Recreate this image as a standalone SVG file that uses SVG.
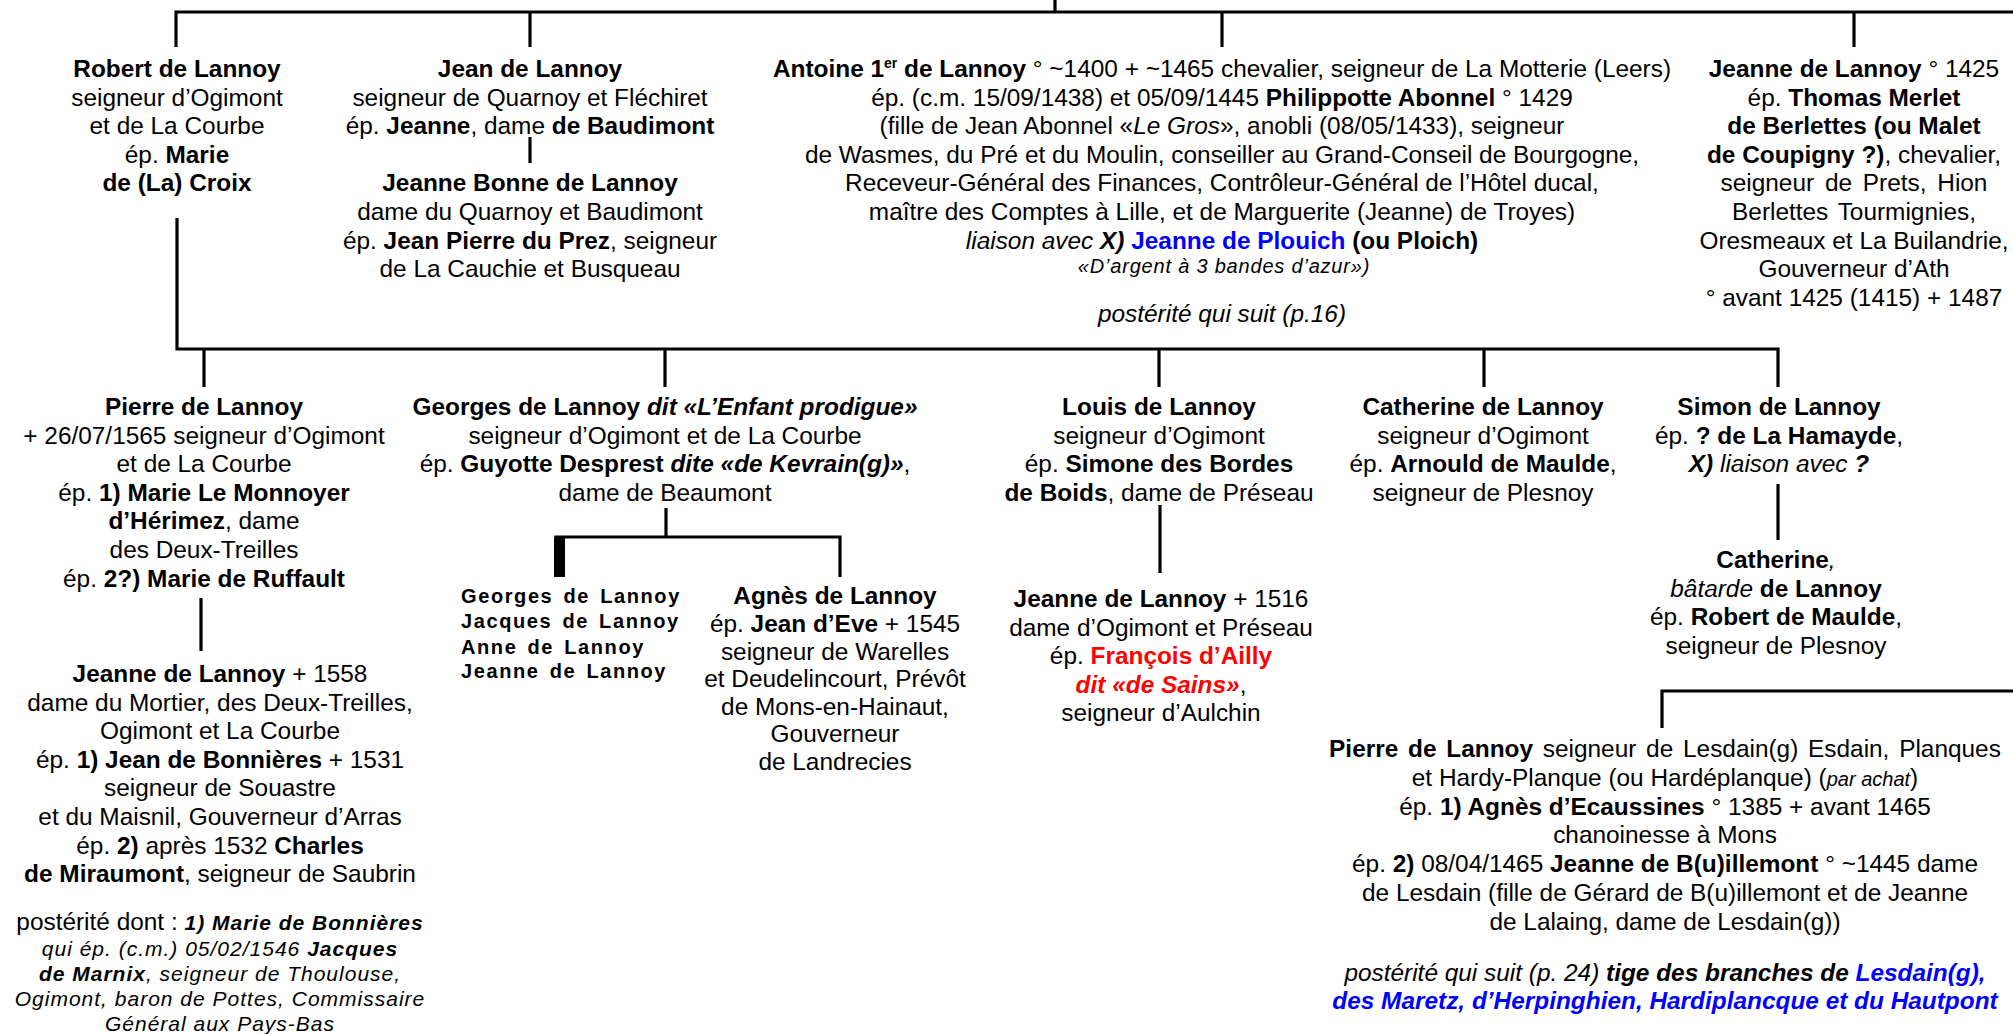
<svg xmlns="http://www.w3.org/2000/svg" width="2013" height="1034" viewBox="0 0 2013 1034">
<style>
text{font-family:"Liberation Sans",Arial,sans-serif;font-size:24.4px;fill:#000;text-anchor:middle}
.b{font-weight:bold}
.i{font-style:italic}
.bi{font-weight:bold;font-style:italic}
.blue{fill:#0000ff}
.red{fill:#ff0000}
.sm{font-size:20px;letter-spacing:0.8px}
.kids{font-size:20px;font-weight:bold;letter-spacing:1.6px;word-spacing:3px;text-anchor:start}
.post{font-size:21px;letter-spacing:1px}
.ln{stroke:#000;stroke-width:3.2;fill:none}
</style>
<rect width="2013" height="1034" fill="#fff"/>
<g id="connectors">
<path class="ln" d="M1055 0 V12"/>
<path class="ln" d="M176 47 V12 H2013"/>
<path class="ln" d="M530 12 V47"/>
<path class="ln" d="M1222 12 V47"/>
<path class="ln" d="M1854 12 V47"/>
<path class="ln" d="M530 137 V163"/>
<path class="ln" d="M177 218 V349 H1778 V387"/>
<path class="ln" d="M204 349 V387"/>
<path class="ln" d="M665 349 V387"/>
<path class="ln" d="M1159 349 V387"/>
<path class="ln" d="M1484 349 V387"/>
<path class="ln" d="M201 598 V651"/>
<path class="ln" d="M666 508 V537"/>
<path class="ln" d="M556 577 V537 H840 V577"/>
<rect x="554" y="537" width="11" height="40" fill="#000"/>
<path class="ln" d="M1160 505 V573"/>
<path class="ln" d="M1778 484 V540"/>
<path class="ln" d="M1662 728 V691 H2013"/>
</g>
<g id="robert">
<text x="177" y="77" class="b">Robert de Lannoy</text>
<text x="177" y="105.6">seigneur d’Ogimont</text>
<text x="177" y="134.2">et de La Courbe</text>
<text x="177" y="162.8">ép. <tspan class="b">Marie</tspan></text>
<text x="177" y="191.4" class="b">de (La) Croix</text>
</g>
<g id="jean">
<text x="530" y="77" class="b">Jean de Lannoy</text>
<text x="530" y="105.6">seigneur de Quarnoy et Fléchiret</text>
<text x="530" y="134.2">ép. <tspan class="b">Jeanne</tspan>, dame <tspan class="b">de Baudimont</tspan></text>
</g>
<g id="jeanne-bonne">
<text x="530" y="191.4" class="b">Jeanne Bonne de Lannoy</text>
<text x="530" y="220">dame du Quarnoy et Baudimont</text>
<text x="530" y="248.6">ép. <tspan class="b">Jean Pierre du Prez</tspan>, seigneur</text>
<text x="530" y="277.2">de La Cauchie et Busqueau</text>
</g>
<g id="antoine">
<text x="1222" y="77"><tspan class="b">Antoine 1</tspan><tspan class="b" font-size="14" dy="-9">er</tspan><tspan class="b" dy="9"> de Lannoy</tspan> ° ~1400 + ~1465 chevalier, seigneur de La Motterie (Leers)</text>
<text x="1222" y="105.6">ép. (c.m. 15/09/1438) et 05/09/1445 <tspan class="b">Philippotte Abonnel</tspan> ° 1429</text>
<text x="1222" y="134.2">(fille de Jean Abonnel «<tspan class="i">Le Gros</tspan>», anobli (08/05/1433), seigneur</text>
<text x="1222" y="162.8">de Wasmes, du Pré et du Moulin, conseiller au Grand-Conseil de Bourgogne,</text>
<text x="1222" y="191.4">Receveur-Général des Finances, Contrôleur-Général de l’Hôtel ducal,</text>
<text x="1222" y="220">maître des Comptes à Lille, et de Marguerite (Jeanne) de Troyes)</text>
<text x="1222" y="248.6"><tspan class="i">liaison avec </tspan><tspan class="bi">X)</tspan> <tspan class="b blue">Jeanne de Plouich</tspan><tspan class="b"> (ou Ploich)</tspan></text>
<text x="1224" y="273" class="i sm">«D’argent à 3 bandes d’azur»)</text>
<text x="1222" y="322" class="i">postérité qui suit (p.16)</text>
</g>
<g id="jeanne-1425">
<text x="1854" y="77"><tspan class="b">Jeanne de Lannoy</tspan> ° 1425</text>
<text x="1854" y="105.6">ép. <tspan class="b">Thomas Merlet</tspan></text>
<text x="1854" y="134.2" class="b">de Berlettes (ou Malet</text>
<text x="1854" y="162.8"><tspan class="b">de Coupigny ?)</tspan>, chevalier,</text>
<text x="1854" y="191.4" word-spacing="4">seigneur de Prets, Hion</text>
<text x="1854" y="220" word-spacing="3">Berlettes Tourmignies,</text>
<text x="1854" y="248.6">Oresmeaux et La Builandrie,</text>
<text x="1854" y="277.2">Gouverneur d’Ath</text>
<text x="1854" y="305.8">° avant 1425 (1415) + 1487</text>
</g>
<g id="pierre-1565">
<text x="204" y="415" class="b">Pierre de Lannoy</text>
<text x="204" y="443.6">+ 26/07/1565 seigneur d’Ogimont</text>
<text x="204" y="472.2">et de La Courbe</text>
<text x="204" y="500.8">ép. <tspan class="b">1) Marie Le Monnoyer</tspan></text>
<text x="204" y="529.4"><tspan class="b">d’Hérimez</tspan>, dame</text>
<text x="204" y="558">des Deux-Treilles</text>
<text x="204" y="586.6">ép. <tspan class="b">2?) Marie de Ruffault</tspan></text>
</g>
<g id="jeanne-1558">
<text x="220" y="682"><tspan class="b">Jeanne de Lannoy</tspan> + 1558</text>
<text x="220" y="710.6">dame du Mortier, des Deux-Treilles,</text>
<text x="220" y="739.2">Ogimont et La Courbe</text>
<text x="220" y="767.8">ép. <tspan class="b">1) Jean de Bonnières</tspan> + 1531</text>
<text x="220" y="796.4">seigneur de Souastre</text>
<text x="220" y="825">et du Maisnil, Gouverneur d’Arras</text>
<text x="220" y="853.6">ép. <tspan class="b">2)</tspan> après 1532 <tspan class="b">Charles</tspan></text>
<text x="220" y="882.2"><tspan class="b">de Miraumont</tspan>, seigneur de Saubrin</text>
<text x="220" y="930">postérité dont : <tspan class="bi post">1) Marie de Bonnières</tspan></text>
<text x="220" y="956" class="i post">qui ép. (c.m.) 05/02/1546 <tspan class="b">Jacques</tspan></text>
<text x="220" y="981" class="i post"><tspan class="b">de Marnix</tspan>, seigneur de Thoulouse,</text>
<text x="220" y="1006" class="i post">Ogimont, baron de Pottes, Commissaire</text>
<text x="220" y="1031" class="i post">Général aux Pays-Bas</text>
</g>
<g id="georges">
<text x="665" y="415"><tspan class="b">Georges de Lannoy </tspan><tspan class="bi">dit «L’Enfant prodigue»</tspan></text>
<text x="665" y="443.6">seigneur d’Ogimont et de La Courbe</text>
<text x="665" y="472.2">ép. <tspan class="b">Guyotte Desprest </tspan><tspan class="bi">dite «de Kevrain(g)»</tspan>,</text>
<text x="665" y="500.8">dame de Beaumont</text>
</g>
<g id="georges-children">
<text x="461" y="603" class="kids">Georges de Lannoy</text>
<text x="461" y="628" class="kids">Jacques de Lannoy</text>
<text x="461" y="654" class="kids">Anne de Lannoy</text>
<text x="461" y="678" class="kids">Jeanne de Lannoy</text>
</g>
<g id="agnes">
<text x="835" y="604" class="b">Agnès de Lannoy</text>
<text x="835" y="632">ép. <tspan class="b">Jean d’Eve</tspan> + 1545</text>
<text x="835" y="659.5">seigneur de Warelles</text>
<text x="835" y="687">et Deudelincourt, Prévôt</text>
<text x="835" y="714.5">de Mons-en-Hainaut,</text>
<text x="835" y="742">Gouverneur</text>
<text x="835" y="769.5">de Landrecies</text>
</g>
<g id="louis">
<text x="1159" y="415" class="b">Louis de Lannoy</text>
<text x="1159" y="443.6">seigneur d’Ogimont</text>
<text x="1159" y="472.2">ép. <tspan class="b">Simone des Bordes</tspan></text>
<text x="1159" y="500.8"><tspan class="b">de Boids</tspan>, dame de Préseau</text>
</g>
<g id="jeanne-1516">
<text x="1161" y="607"><tspan class="b">Jeanne de Lannoy</tspan> + 1516</text>
<text x="1161" y="635.6">dame d’Ogimont et Préseau</text>
<text x="1161" y="664.2">ép. <tspan class="b red">François d’Ailly</tspan></text>
<text x="1161" y="692.8"><tspan class="bi red">dit «de Sains»</tspan>,</text>
<text x="1161" y="721.4">seigneur d’Aulchin</text>
</g>
<g id="catherine">
<text x="1483" y="415" class="b">Catherine de Lannoy</text>
<text x="1483" y="443.6">seigneur d’Ogimont</text>
<text x="1483" y="472.2">ép. <tspan class="b">Arnould de Maulde</tspan>,</text>
<text x="1483" y="500.8">seigneur de Plesnoy</text>
</g>
<g id="simon">
<text x="1779" y="415" class="b">Simon de Lannoy</text>
<text x="1779" y="443.6">ép. <tspan class="b">? de La Hamayde</tspan>,</text>
<text x="1779" y="472.2"><tspan class="bi">X)</tspan><tspan class="i"> liaison avec </tspan><tspan class="bi">?</tspan></text>
</g>
<g id="catherine-batarde">
<text x="1776" y="568"><tspan class="b">Catherine</tspan><tspan class="i">,</tspan></text>
<text x="1776" y="596.6"><tspan class="i">bâtarde</tspan><tspan class="b"> de Lannoy</tspan></text>
<text x="1776" y="625.2">ép. <tspan class="b">Robert de Maulde</tspan>,</text>
<text x="1776" y="653.8">seigneur de Plesnoy</text>
</g>
<g id="pierre-lesdain">
<text x="1665" y="757" word-spacing="3"><tspan class="b">Pierre de Lannoy</tspan> seigneur de Lesdain(g) Esdain, Planques</text>
<text x="1665" y="785.8">et Hardy-Planque (ou Hardéplanque) (<tspan class="i" font-size="20">par achat</tspan>)</text>
<text x="1665" y="814.6">ép. <tspan class="b">1) Agnès d’Ecaussines</tspan> ° 1385 + avant 1465</text>
<text x="1665" y="843.4">chanoinesse à Mons</text>
<text x="1665" y="872.2">ép. <tspan class="b">2)</tspan> 08/04/1465 <tspan class="b">Jeanne de B(u)illemont</tspan> ° ~1445 dame</text>
<text x="1665" y="901">de Lesdain (fille de Gérard de B(u)illemont et de Jeanne</text>
<text x="1665" y="929.8">de Lalaing, dame de Lesdain(g))</text>
<text x="1665" y="981"><tspan class="i">postérité qui suit (p. 24) </tspan><tspan class="bi">tige des branches de </tspan><tspan class="bi blue">Lesdain(g),</tspan></text>
<text x="1665" y="1009" class="bi blue">des Maretz, d’Herpinghien, Hardiplancque et du Hautpont</text>
</g>
</svg>
